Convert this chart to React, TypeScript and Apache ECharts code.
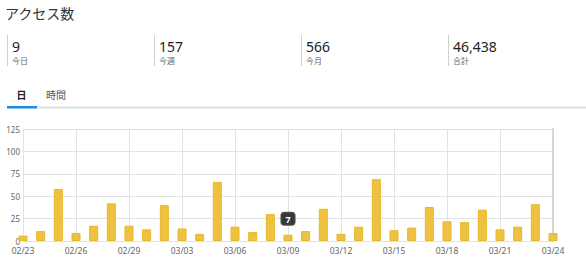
import React, { useEffect, useRef } from "react";
import * as echarts from "echarts";

const dates = [
  "02/23", "02/24", "02/25", "02/26", "02/27", "02/28", "02/29",
  "03/01", "03/02", "03/03", "03/04", "03/05", "03/06", "03/07",
  "03/08", "03/09", "03/10", "03/11", "03/12", "03/13", "03/14",
  "03/15", "03/16", "03/17", "03/18", "03/19", "03/20", "03/21",
  "03/22", "03/23", "03/24",
];
const visits = [
  6, 11, 58, 9, 17, 42, 17,
  13, 40, 14, 8, 66, 16, 10,
  30, 7, 11, 36, 8, 16, 69,
  12, 15, 38, 22, 21, 35, 13,
  16, 41, 9,
];
const highlightIndex = 15;

const title = "アクセス数";
const statValues = ["9", "157", "566", "46,438"];
const statLabels = ["今日", "今週", "今月", "合計"];
const tabLabels = ["日", "時間"];

const yTicks = { min: 0, max: 125, interval: 25 };

const JP = '"Noto Sans CJK JP", "Noto Sans", sans-serif';
const NUM = '"Noto Sans", "Noto Sans CJK JP", sans-serif';

export default function App() {
  const ref = useRef<HTMLDivElement>(null);

  useEffect(() => {
    document.body.style.margin = "0";
    const chart = echarts.init(ref.current!, null, { renderer: "svg" });

    const statX = [7, 154, 301, 448];
    const graphics: any[] = [
      {
        type: "text",
        left: 5,
        top: 6,
        style: { text: title, font: `14px ${JP}`, fill: "#333" },
      },
    ];
    statX.forEach((x, i) => {
      graphics.push({
        type: "line",
        shape: { x1: x + 0.5, y1: 35, x2: x + 0.5, y2: 66 },
        style: { stroke: "#d0d0d0", lineWidth: 1 },
      });
      graphics.push({
        type: "text",
        x: x + 5,
        y: 46,
        style: {
          text: statValues[i],
          font: `14px ${NUM}`,
          fill: "#222",
          textVerticalAlign: "middle",
        },
      });
      graphics.push({
        type: "text",
        x: x + 5,
        y: 60.5,
        style: {
          text: statLabels[i],
          font: `8px ${JP}`,
          fill: "#666",
          textVerticalAlign: "middle",
        },
      });
    });
    graphics.push({
      type: "text",
      x: 21.5,
      y: 94,
      style: {
        text: tabLabels[0],
        font: `bold 10px ${JP}`,
        fill: "#222",
        textAlign: "center",
        textVerticalAlign: "middle",
      },
    });
    graphics.push({
      type: "text",
      x: 56,
      y: 94,
      style: {
        text: tabLabels[1],
        font: `10px ${JP}`,
        fill: "#555",
        textAlign: "center",
        textVerticalAlign: "middle",
      },
    });
    graphics.push({
      type: "rect",
      shape: { x: 37, y: 106.5, width: 549, height: 2 },
      style: { fill: "#dde0e4" },
    });
    graphics.push({
      type: "rect",
      shape: { x: 7, y: 106, width: 30, height: 2.5 },
      style: { fill: "#1e88e5" },
    });

    const seriesData = visits.map((v, i) =>
      i === highlightIndex
        ? {
            value: v,
            label: {
              show: true,
              position: "top",
              distance: 10,
              color: "#fff",
              fontWeight: "bold",
              fontSize: 9,
              fontFamily: NUM,
              backgroundColor: "#383838",
              borderColor: "#555",
              borderWidth: 1,
              borderRadius: 3,
              padding: [2, 4, 1, 4],
            },
          }
        : v
    );

    chart.setOption({
      animation: false,
      graphic: graphics,
      grid: { left: 23, right: 33, top: 129, bottom: 23 },
      xAxis: {
        type: "category",
        data: dates,
        boundaryGap: false,
        axisLine: { show: false },
        axisTick: { show: false },
        axisLabel: {
          interval: 2,
          color: "#666",
          fontSize: 8.5,
          lineHeight: 9,
          fontFamily: NUM,
          margin: 5,
        },
        splitLine: {
          show: true,
          interval: 2,
          lineStyle: { color: "#e2e2e2", width: 1 },
        },
      },
      yAxis: [
        {
          type: "value",
          min: yTicks.min,
          max: yTicks.max,
          interval: yTicks.interval,
          axisLine: { show: false },
          axisTick: { show: false },
          axisLabel: {
            color: "#666",
            fontSize: 8,
            lineHeight: 8,
            fontFamily: NUM,
            margin: 3,
          },
          splitLine: { lineStyle: { color: "#e2e2e2", width: 1 } },
        },
        {
          type: "value",
          position: "right",
          min: yTicks.min,
          max: yTicks.max,
          interval: yTicks.interval,
          axisLine: { show: true, lineStyle: { color: "#d6d6d6", width: 2 } },
          axisTick: { show: false },
          axisLabel: { show: false },
          splitLine: { show: false },
        },
      ],
      series: [
        {
          type: "bar",
          data: seriesData,
          barWidth: 9,
          itemStyle: {
            color: "#eec240",
            borderColor: "#e9b826",
            borderWidth: 1,
          },
        },
      ],
    });

    return () => chart.dispose();
  }, []);

  return <div ref={ref} style={{ width: 586, height: 264 }} />;
}
